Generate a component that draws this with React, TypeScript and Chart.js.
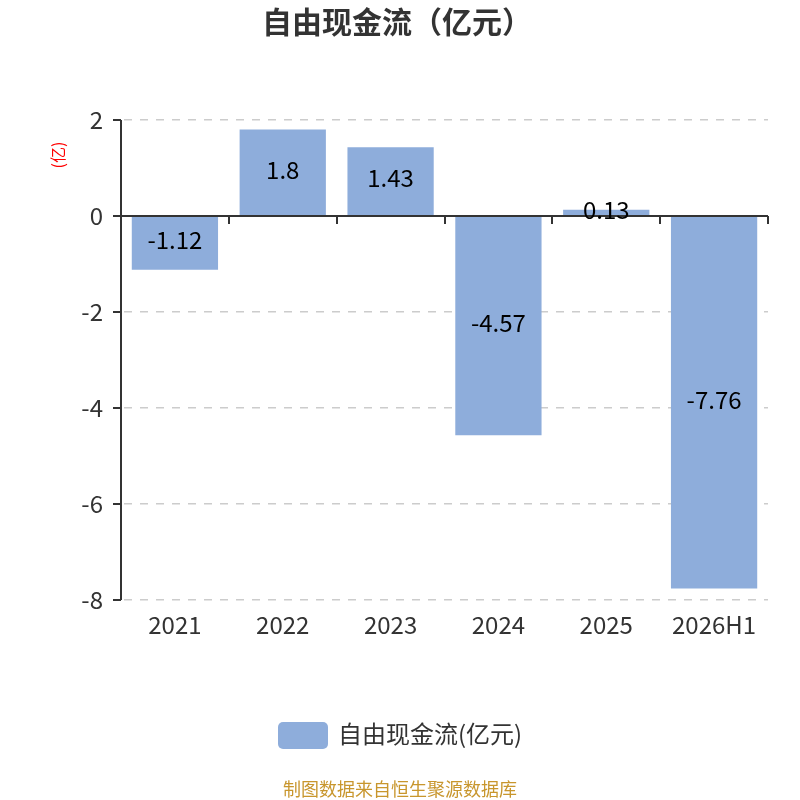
import { useEffect, useRef } from "react";
import { Chart, ChartOptions, Plugin, registerables } from "chart.js";

Chart.register(...registerables);

const categories = ["2021", "2022", "2023", "2024", "2025", "2026H1"];
const freeCashFlow = [-1.12, 1.8, 1.43, -4.57, 0.13, -7.76];
const yTicks = [-8, -6, -4, -2, 0, 2];

const FONT = '"Noto Sans CJK SC", "Noto Sans", sans-serif';
const BAR_COLOR = "#8eaddb";
const AXIS_COLOR = "#333333";

// draws title, axis lines, tick marks, value labels, legend and source note
const decorations: Plugin<"bar"> = {
  id: "decorations",
  afterDatasetsDraw(chart) {
    const { ctx, chartArea, scales } = chart;
    const y = scales.y;
    const zeroY = Math.round(y.getPixelForValue(0));
    const leftX = Math.round(chartArea.left);
    ctx.save();

    // y axis line + ticks
    ctx.strokeStyle = AXIS_COLOR;
    ctx.lineWidth = 2;
    ctx.beginPath();
    ctx.moveTo(leftX, chartArea.top);
    ctx.lineTo(leftX, chartArea.bottom);
    yTicks.forEach((t) => {
      const py = Math.round(y.getPixelForValue(t));
      ctx.moveTo(leftX - 8, py);
      ctx.lineTo(leftX, py);
    });
    ctx.stroke();

    // zero axis line + category boundary ticks
    ctx.beginPath();
    ctx.moveTo(chartArea.left, zeroY);
    ctx.lineTo(chartArea.right, zeroY);
    const step = (chartArea.right - chartArea.left) / categories.length;
    for (let i = 0; i <= categories.length; i++) {
      const px = Math.round(chartArea.left + step * i);
      ctx.moveTo(px, zeroY);
      ctx.lineTo(px, zeroY + 8);
    }
    ctx.stroke();

    // value labels inside bars
    const meta = chart.getDatasetMeta(0);
    ctx.fillStyle = "#000";
    ctx.font = `24px ${FONT}`;
    ctx.textAlign = "center";
    ctx.textBaseline = "middle";
    meta.data.forEach((bar: any, i) => {
      const mid = (bar.y + bar.base) / 2;
      ctx.fillText(String(freeCashFlow[i]), bar.x, mid - 3);
    });

    // title
    ctx.fillStyle = "#333";
    ctx.font = `bold 30px ${FONT}`;
    ctx.fillText("自由现金流（亿元）", 397, 22);

    // y axis unit
    ctx.save();
    ctx.translate(58, 155);
    ctx.rotate(-Math.PI / 2);
    ctx.fillStyle = "#ff0000";
    ctx.font = `16px ${FONT}`;
    ctx.fillText("(亿)", 0, 0);
    ctx.restore();

    // legend
    ctx.fillStyle = BAR_COLOR;
    ctx.beginPath();
    ctx.roundRect(278, 722, 50, 27, 5);
    ctx.fill();
    ctx.fillStyle = "#333";
    ctx.font = `24px ${FONT}`;
    ctx.textAlign = "left";
    ctx.fillText("自由现金流(亿元)", 338, 734);

    // source note
    ctx.fillStyle = "#c8962d";
    ctx.font = `18px ${FONT}`;
    ctx.textAlign = "center";
    ctx.fillText("制图数据来自恒生聚源数据库", 400, 789);

    ctx.restore();
  },
};

export default function App() {
  const chartRef = useRef<HTMLCanvasElement>(null);
  const chartInstance = useRef<Chart | null>(null);

  useEffect(() => {
    if (!chartRef.current) return;
    if (chartInstance.current) chartInstance.current.destroy();
    const ctx = chartRef.current.getContext("2d");
    if (!ctx) return;

    const options: ChartOptions<"bar"> = {
      responsive: true,
      maintainAspectRatio: false,
      animation: false,
      layout: { padding: { top: 120, right: 32, bottom: 0, left: 0 } },
      plugins: {
        legend: { display: false },
        title: { display: false },
        tooltip: { enabled: false },
      },
      scales: {
        x: {
          offset: true,
          grid: { display: false, drawTicks: false },
          border: { display: false },
          ticks: {
            color: AXIS_COLOR,
            padding: 10,
            font: { size: 24, family: FONT },
          },
          afterFit: (scale) => {
            scale.height = 200;
          },
        },
        y: {
          min: -8,
          max: 2,
          afterBuildTicks: (scale) => {
            scale.ticks = yTicks.map((v) => ({ value: v }));
          },
          grid: {
            drawTicks: false,
            color: (c) => (c.tick && c.tick.value === 0 ? "rgba(0,0,0,0)" : "#cccccc"),
            lineWidth: 1.5,
          },
          border: { display: false, dash: [8, 8], dashOffset: -3 },
          ticks: {
            color: AXIS_COLOR,
            padding: 18,
            font: { size: 24, family: FONT },
          },
          afterFit: (scale) => {
            scale.width = 121;
          },
        },
      },
    };

    chartInstance.current = new Chart(ctx, {
      type: "bar",
      data: {
        labels: categories,
        datasets: [
          {
            label: "自由现金流(亿元)",
            data: freeCashFlow,
            backgroundColor: BAR_COLOR,
            barPercentage: 0.8,
            categoryPercentage: 1,
          },
        ],
      },
      options,
      plugins: [decorations],
    });

    return () => {
      if (chartInstance.current) chartInstance.current.destroy();
    };
  }, []);

  return (
    <div style={{ position: "absolute", left: 0, top: 0, width: 800, height: 800, background: "#fff" }}>
      <canvas ref={chartRef}></canvas>
    </div>
  );
}
